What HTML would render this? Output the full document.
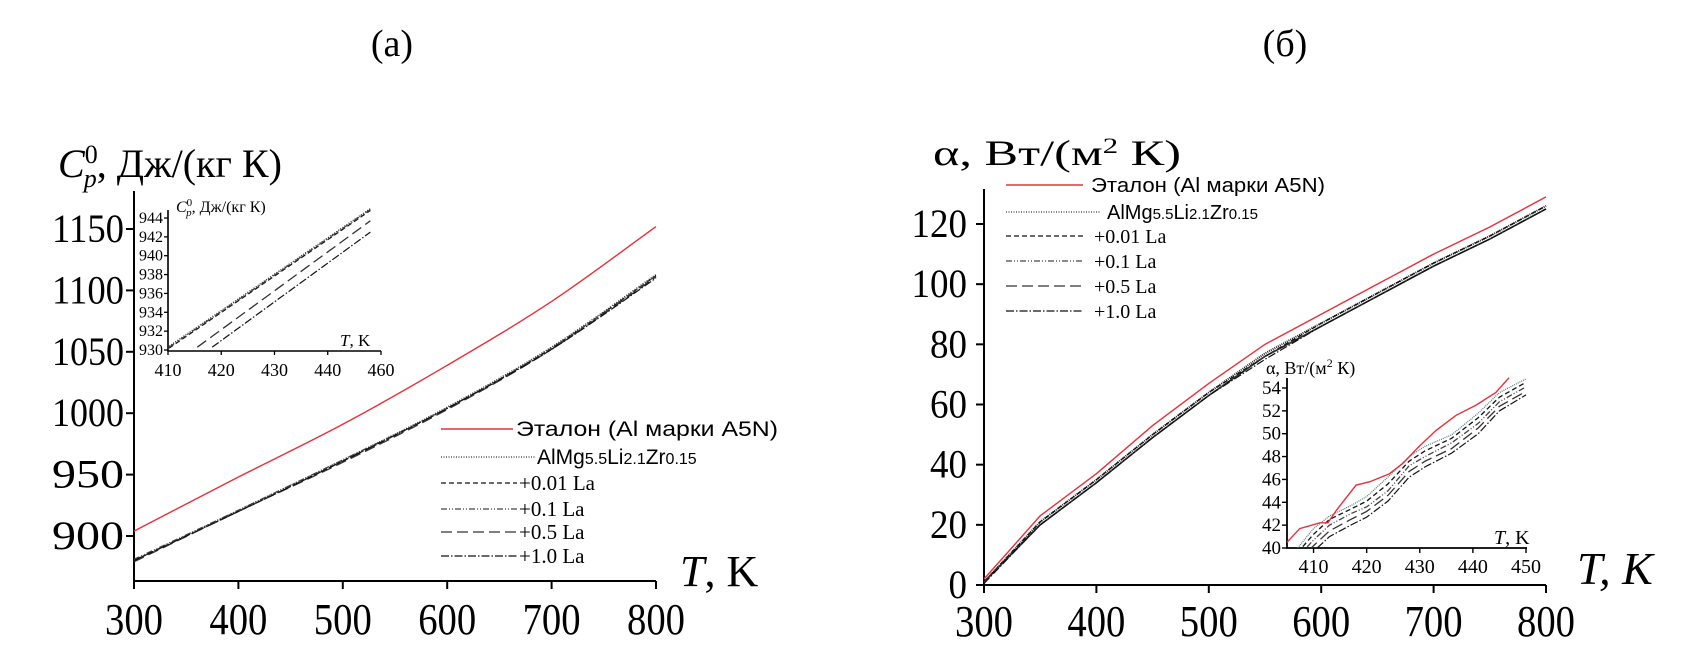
<!DOCTYPE html>
<html><head><meta charset="utf-8"><style>
html,body{margin:0;padding:0;background:#fff;}
svg{display:block;font-family:"Liberation Serif","DejaVu Serif",serif;}
</style></head><body>
<svg id="fig" width="1692" height="654" viewBox="0 0 1692 654" xmlns="http://www.w3.org/2000/svg">
<defs>
<clipPath id="clipL"><rect x="168" y="200" width="214" height="150"/></clipPath>
<clipPath id="clipR"><rect x="1287" y="370" width="245" height="178"/></clipPath>
</defs>
<text x="392" y="56" font-size="38" text-anchor="middle">(а)</text>
<text x="1285" y="56" font-size="38" text-anchor="middle">(б)</text>
<g id="left"></g>
<g id="right"></g>
</svg>
<script>
// ---- Panel (a) data ----
const tMainA = [300, 400, 500, 600, 700, 800];
const cpRef = [904, 948, 991, 1039, 1091, 1152];
const cpAlMg = [880, 921, 962, 1005, 1054, 1113];
const cp001 = [880, 920, 961, 1004, 1053, 1112];
const cp01 = [881, 921, 962, 1004, 1053, 1112];
const cp05 = [879, 920, 960, 1003, 1052, 1111];
const cp10 = [880, 920, 961, 1004, 1052, 1110];
const cpTicks = [900, 950, 1000, 1050, 1100, 1150];
const tTicksA = [300, 400, 500, 600, 700, 800];
// inset (a)
const tInsTop = [410.2, 448];
const cpInsTop = [930.4, 945];
const tInsDash = [415.5, 448];
const cpInsDash = [930.3, 943.7];
const tInsDD = [418.3, 448];
const cpInsDD = [930.3, 942.5];
const insTicksYA = [930, 932, 934, 936, 938, 940, 942, 944];
const insTicksXA = [410, 420, 430, 440, 450];
const insTickLabelsXA = ["410", "420", "430", "440", "460"];
// ---- Panel (b) data ----
const tMainB = [300, 350, 400, 450, 500, 550, 600, 650, 700, 750, 800];
const alphaRef = [2, 23, 37, 53, 67, 80, 90, 100, 110, 119, 129];
const alphaAlMg = [1, 21, 35, 50, 64, 77, 87, 97, 107, 116, 126];
const alpha001 = [1, 21, 35, 50, 64, 76, 87, 97, 107, 116, 126];
const alpha01 = [1, 20, 34, 49, 63, 76, 86, 96, 106, 115, 125];
const alpha05 = [1, 20, 34, 49, 63, 76, 86, 96, 106, 115, 125];
const alpha10 = [0.5, 20, 34, 49, 63, 75, 86, 96, 106, 115, 125];
const alphaTicks = [0, 20, 40, 60, 80, 100, 120];
const tTicksB = [300, 400, 500, 600, 700, 800];
// inset (b)
const tInsRef = [405, 407.4, 411.2, 412.7, 414.3, 418, 420.6, 424.3, 426.8, 429.9, 433.1, 436.8, 440.6, 444.3, 446.8];
const aInsRef = [40.5, 41.7, 42.2, 42.2, 43.3, 45.5, 45.8, 46.5, 47.4, 48.9, 50.3, 51.6, 52.5, 53.6, 54.9];
const tIns = [407, 410, 413, 417, 420, 424, 428, 431, 436, 441, 445, 450];
const aInsAlMg = [40.0, 41.7, 42.8, 43.7, 44.5, 46.2, 48.0, 48.9, 49.9, 51.8, 53.6, 54.8];
const aIns001 = [39.6, 41.2, 42.5, 43.4, 44.1, 45.6, 47.6, 48.5, 49.6, 51.4, 53.2, 54.5];
const aIns01 = [39.2, 40.7, 42.0, 43.0, 43.6, 45.0, 47.2, 48.0, 49.2, 50.9, 52.8, 54.1];
const aIns05 = [38.8, 40.2, 41.5, 42.5, 43.2, 44.6, 46.7, 47.6, 48.7, 50.5, 52.4, 53.7];
const aIns10 = [38.4, 39.7, 41.0, 42.0, 42.7, 44.1, 46.2, 47.1, 48.3, 50.0, 52.0, 53.4];
const insTicksYB = [40, 42, 44, 46, 48, 50, 52, 54];
const insTicksXB = [410, 420, 430, 440, 450];

const NS = "http://www.w3.org/2000/svg";
function mk(parent, tag, attrs, text) {
  const e = document.createElementNS(NS, tag);
  for (const k in attrs) e.setAttribute(k, attrs[k]);
  if (text !== undefined) e.textContent = text;
  parent.appendChild(e);
  return e;
}
function lin(d0, d1, r0, r1) { return v => r0 + (v - d0) * (r1 - r0) / (d1 - d0); }
function smoothPath(pts) {
  let d = "M" + pts[0][0] + "," + pts[0][1];
  for (let i = 0; i < pts.length - 1; i++) {
    const p0 = pts[i - 1] || pts[i], p1 = pts[i], p2 = pts[i + 1], p3 = pts[i + 2] || p2;
    const c1x = p1[0] + (p2[0] - p0[0]) / 6, c1y = p1[1] + (p2[1] - p0[1]) / 6;
    const c2x = p2[0] - (p3[0] - p1[0]) / 6, c2y = p2[1] - (p3[1] - p1[1]) / 6;
    d += " C" + c1x + "," + c1y + " " + c2x + "," + c2y + " " + p2[0] + "," + p2[1];
  }
  return d;
}
function series(g, xs, ys, sx, sy, style, name, smooth, clip) {
  const pts = xs.map((x, i) => [sx(x), sy(ys[i])]);
  const p = mk(g, "path", {d: smooth ? smoothPath(pts) : "M" + pts.map(p => p.join(",")).join(" L"),
    fill: "none", stroke: style.c, "stroke-width": style.w, "stroke-dasharray": style.d || "none"});
  if (clip) p.setAttribute("clip-path", clip);
  
  
  return p;
}
const S = {
  red: {c: "#e8303a", w: 1.4},
  dot: {c: "#333", w: 1.3, d: "1,1.5"},
  dash: {c: "#111", w: 1.3, d: "5,3"},
  ddot: {c: "#444", w: 1.3, d: "6,2,1,2,1,2"},
  long: {c: "#333", w: 1.3, d: "11,5"},
  dashdot: {c: "#111", w: 1.2, d: "8,2,1.5,2"}
};

// ================= Panel (a) =================
const L = document.getElementById("left");
const xA = lin(300, 800, 134, 656);
const yA = lin(900, 1150, 536, 229);
let e;
e = mk(L, "path", {d: "M134,191 V581 H656", fill: "none", stroke: "#000", "stroke-width": 2});


cpTicks.forEach(v => {
  mk(L, "line", {x1: 126, x2: 134, y1: yA(v), y2: yA(v), stroke: "#000", "stroke-width": 2});
  e = mk(L, "text", {x: 124, y: yA(v) + 13, "font-size": 40, "text-anchor": "end", textLength: 72, lengthAdjust: "spacingAndGlyphs"}, String(v));
  
  
});
tTicksA.forEach(v => {
  mk(L, "line", {x1: xA(v), x2: xA(v), y1: 581, y2: 589, stroke: "#000", "stroke-width": 2});
  e = mk(L, "text", {x: xA(v) - 29, y: 634, "font-size": 44, textLength: 58, lengthAdjust: "spacingAndGlyphs"}, String(v));
  
  
});
e = mk(L, "text", {x: 58, y: 177, "font-size": 40});
e.innerHTML = '<tspan font-style="italic">C</tspan><tspan font-size="26" dy="-14">0</tspan><tspan font-size="26" font-style="italic" dx="-14" dy="24">p</tspan><tspan dy="-10">, Дж/(кг К)</tspan>';


e = mk(L, "text", {x: 680, y: 586, "font-size": 44});
e.innerHTML = '<tspan font-style="italic">T</tspan>, K';



series(L, tMainA, cpRef, xA, yA, S.red, "line-etalon", true);
series(L, tMainA, cpAlMg, xA, yA, S.dot, "line-almg", true);
series(L, tMainA, cp001, xA, yA, S.dash, "line-001-la", true);
series(L, tMainA, cp01, xA, yA, S.ddot, "line-01-la", true);
series(L, tMainA, cp05, xA, yA, S.long, "line-05-la", true);
series(L, tMainA, cp10, xA, yA, S.dashdot, "line-10-la", true);

// inset (a)
const xIA = lin(410, 450, 168, 381);
const yIA = lin(930, 944, 350, 218);
e = mk(L, "path", {d: "M168,210 V351 H381", fill: "none", stroke: "#000", "stroke-width": 1.6});


insTicksYA.forEach(v => {
  mk(L, "line", {x1: 164, x2: 168, y1: yIA(v), y2: yIA(v), stroke: "#000", "stroke-width": 1.3});
  e = mk(L, "text", {x: 163, y: yIA(v) + 5, "font-size": 16, "text-anchor": "end"}, String(v));
  
  
});
insTicksXA.forEach((v, i) => {
  mk(L, "line", {x1: xIA(v), x2: xIA(v), y1: 351, y2: 355, stroke: "#000", "stroke-width": 1.3});
  e = mk(L, "text", {x: xIA(v), y: 376, "font-size": 18, "text-anchor": "middle"}, insTickLabelsXA[i]);
  
  
});
e = mk(L, "text", {x: 176, y: 212, "font-size": 16});
e.innerHTML = '<tspan font-style="italic">C</tspan><tspan font-size="11" dy="-6">0</tspan><tspan font-size="11" font-style="italic" dx="-6" dy="10">p</tspan><tspan dy="-4">, Дж/(кг К)</tspan>';


e = mk(L, "text", {x: 340, y: 346, "font-size": 17});
e.innerHTML = '<tspan font-style="italic">T</tspan>, K';


series(L, tInsTop, cpInsTop, xIA, yIA, S.dot, "inset-line-almg", false, "url(#clipL)");
series(L, tInsTop, cpInsTop.map(v => v - 0.2), xIA, yIA, S.dash, "inset-line-001-la", false, "url(#clipL)");
series(L, tInsTop, cpInsTop.map(v => v - 0.1), xIA, yIA, S.ddot, "inset-line-01-la", false, "url(#clipL)");
series(L, tInsDash, cpInsDash, xIA, yIA, S.long, "inset-line-05-la", false, "url(#clipL)");
series(L, tInsDD, cpInsDD, xIA, yIA, S.dashdot, "inset-line-10-la", false, "url(#clipL)");

// legend (a)
const legRowsA = [429, 457, 483, 509, 532, 556];
const legStyles = [S.red, S.dot, S.dash, S.ddot, S.long, S.dashdot];
const legLabels = ["Эталон (Al марки A5N)", "AlMg5.5Li2.1Zr0.15", "+0.01 La", "+0.1 La", "+0.5 La", "+1.0 La"];
function legend(g, rows, x0, endRed, endDot, endOther, txRed, txDot, txOther, fs, wRed, suffix) {
  rows.forEach((y, i) => {
    const st = legStyles[i];
    const x1 = i === 0 ? endRed : (i === 1 ? endDot : endOther);
    const lg = mk(g, "g", {});
    
    
    mk(lg, "line", {x1: x0, x2: x1, y1: y, y2: y, stroke: st.c, "stroke-width": st.w, "stroke-dasharray": st.d || "none"});
    const tx = i === 0 ? txRed : (i === 1 ? txDot : txOther);
    const t = mk(lg, "text", {x: tx, y: y + 7, "font-size": fs, "font-family": i < 2 ? '"Liberation Sans", sans-serif' : '"Liberation Serif", serif'});
    if (i === 0) { t.textContent = legLabels[0]; t.setAttribute("textLength", wRed); t.setAttribute("lengthAdjust", "spacingAndGlyphs"); }
    else if (i === 1) t.innerHTML = 'AlMg<tspan font-size="' + (fs - 5) + '">5.5</tspan>Li<tspan font-size="' + (fs - 5) + '">2.1</tspan>Zr<tspan font-size="' + (fs - 5) + '">0.15</tspan>';
    else t.textContent = legLabels[i];
  });
}
legend(L, legRowsA, 441, 513, 535, 517, 516, 537, 519, 21, 262, "a");

// ================= Panel (b) =================
const R = document.getElementById("right");
const xB = lin(300, 800, 984, 1546);
const yB = lin(0, 120, 585, 224);
e = mk(R, "path", {d: "M984,189 V585 H1546", fill: "none", stroke: "#000", "stroke-width": 2});


alphaTicks.forEach(v => {
  mk(R, "line", {x1: 976, x2: 984, y1: yB(v), y2: yB(v), stroke: "#000", "stroke-width": 2});
  e = mk(R, "text", {x: 967, y: yB(v) + 13, "font-size": 40, "text-anchor": "end", textLength: String(v).length * 18.5, lengthAdjust: "spacingAndGlyphs"}, String(v));
  
  
});
tTicksB.forEach(v => {
  mk(R, "line", {x1: xB(v), x2: xB(v), y1: 585, y2: 593, stroke: "#000", "stroke-width": 2});
  e = mk(R, "text", {x: xB(v) - 29, y: 636, "font-size": 44, textLength: 58, lengthAdjust: "spacingAndGlyphs"}, String(v));
  
  
});
e = mk(R, "text", {x: 933, y: 165, "font-size": 36, textLength: 248, lengthAdjust: "spacingAndGlyphs"});
e.innerHTML = 'α, Вт/(м<tspan font-size="22" dy="-12">2</tspan><tspan dy="12"> К)</tspan>';


e = mk(R, "text", {x: 1577, y: 584, "font-size": 46, "font-style": "italic"}, "T, K");



series(R, tMainB, alphaAlMg, xB, yB, {c: "#222", w: 2.0, d: "1,1"}, "line-almg", false);
series(R, tMainB, alpha001, xB, yB, S.dash, "line-001-la", false);
series(R, tMainB, alpha01, xB, yB, {c: "#111", w: 1.6}, "line-01-la", false);
series(R, tMainB, alpha05, xB, yB, S.long, "line-05-la", false);
series(R, tMainB, alpha10, xB, yB, S.dashdot, "line-10-la", false);
series(R, tMainB, alphaRef, xB, yB, S.red, "line-etalon", false);

// inset (b)
const xIB = lin(405, 450, 1287, 1526);
const yIB = lin(40, 54, 548, 388);
e = mk(R, "path", {d: "M1287,378 V548 H1527", fill: "none", stroke: "#000", "stroke-width": 1.8});


insTicksYB.forEach(v => {
  mk(R, "line", {x1: 1282, x2: 1287, y1: yIB(v), y2: yIB(v), stroke: "#000", "stroke-width": 1.4});
  e = mk(R, "text", {x: 1281, y: yIB(v) + 6, "font-size": 19, "text-anchor": "end"}, String(v));
  
  
});
insTicksXB.forEach(v => {
  mk(R, "line", {x1: xIB(v), x2: xIB(v), y1: 548, y2: 553, stroke: "#000", "stroke-width": 1.4});
  e = mk(R, "text", {x: xIB(v), y: 573, "font-size": 20, "text-anchor": "middle"}, String(v));
  
  
});
e = mk(R, "text", {x: 1266, y: 374, "font-size": 18});
e.innerHTML = 'α, Вт/(м<tspan font-size="12" dy="-7">2</tspan><tspan dy="7"> К)</tspan>';


e = mk(R, "text", {x: 1494, y: 544, "font-size": 20});
e.innerHTML = '<tspan font-style="italic">T</tspan>, K';


series(R, tIns, aInsAlMg, xIB, yIB, {c: "#4a7a80", w: 1.2, d: "1,1"}, "inset-line-almg", false, "url(#clipR)");
series(R, tIns, aIns001, xIB, yIB, S.dash, "inset-line-001-la", false, "url(#clipR)");
series(R, tIns, aIns01, xIB, yIB, S.ddot, "inset-line-01-la", false, "url(#clipR)");
series(R, tIns, aIns05, xIB, yIB, S.long, "inset-line-05-la", false, "url(#clipR)");
series(R, tIns, aIns10, xIB, yIB, S.dashdot, "inset-line-10-la", false, "url(#clipR)");
series(R, tInsRef, aInsRef, xIB, yIB, S.red, "inset-line-etalon", false, "url(#clipR)");

// legend (b)
const legRowsB = [185, 212, 236, 261, 286, 311];
legend(R, legRowsB, 1006, 1083, 1100, 1083, 1091, 1107, 1094, 20, 234, "b");
</script>
</body></html>
